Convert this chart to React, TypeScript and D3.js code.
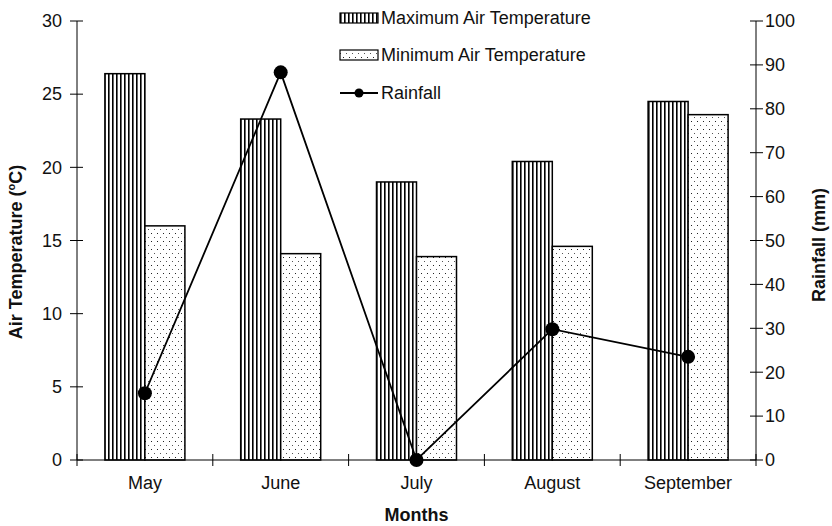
import React from "react";
import * as d3 from "d3";

const months = ["May", "June", "July", "August", "September"];
const maxTemp = [26.4, 23.3, 19.0, 20.4, 24.5];
const minTemp = [16.0, 14.1, 13.9, 14.6, 23.6];
const rainfall = [15.2, 88.3, 0, 29.8, 23.5];
const leftTicks = [0, 5, 10, 15, 20, 25, 30];
const rightTicks = [0, 10, 20, 30, 40, 50, 60, 70, 80, 90, 100];
const legendItems = ["Maximum Air Temperature", "Minimum Air Temperature", "Rainfall"];

const W = 832;
const H = 526;
const left = 77;
const right = 756;
const top = 21;
const bottom = 460;
const FONT = "'Liberation Sans', Arial, sans-serif";

export default function App() {
  const x = d3.scaleBand<string>().domain(months).range([left, right]).padding(0);
  const yL = d3.scaleLinear().domain([0, 30]).range([bottom, top]);
  const yR = d3.scaleLinear().domain([0, 100]).range([bottom, top]);
  const barW = 40;
  const cx = (m: string) => (x(m) as number) + x.bandwidth() / 2;
  const line = d3
    .line<number>()
    .x((_, i) => cx(months[i]))
    .y((d) => yR(d));
  const boundaries = d3.range(months.length + 1).map((i) => left + i * x.bandwidth());

  return (
    <div style={{ position: "fixed", left: 0, top: 0 }}>
      <svg width={W} height={H} style={{ display: "block", background: "#fff" }} fontFamily={FONT}>
        <defs>
          <pattern id="stripes" width={4} height={4} patternUnits="userSpaceOnUse">
            <rect width={4} height={4} fill="#fff" />
            <rect x={0} y={0} width={1.6} height={4} fill="#000" />
          </pattern>
          <pattern id="dots" width={6} height={8} patternUnits="userSpaceOnUse">
            <rect width={6} height={8} fill="#fff" />
            <rect x={1} y={1} width={1} height={1} fill="#222" />
            <rect x={4} y={5} width={1} height={1} fill="#555" />
          </pattern>
        </defs>

        {/* bars */}
        {months.map((m, i) => (
          <g key={m}>
            <rect
              x={cx(m) - barW}
              y={yL(maxTemp[i])}
              width={barW}
              height={bottom - yL(maxTemp[i])}
              fill="url(#stripes)"
              stroke="#000"
              strokeWidth={1.5}
            />
            <rect
              x={cx(m)}
              y={yL(minTemp[i])}
              width={barW}
              height={bottom - yL(minTemp[i])}
              fill="url(#dots)"
              stroke="#000"
              strokeWidth={1.5}
            />
          </g>
        ))}

        {/* x axis */}
        <line x1={left} x2={right} y1={bottom} y2={bottom} stroke="#000" strokeWidth={1} />
        {boundaries.map((b, i) => (
          <line key={i} x1={b} x2={b} y1={bottom - 6} y2={bottom + 6} stroke="#000" strokeWidth={1} />
        ))}
        {months.map((m) => (
          <text key={m} x={cx(m)} y={489} textAnchor="middle" fontSize={18} fill="#111">
            {m}
          </text>
        ))}
        <text x={(left + right) / 2} y={521} textAnchor="middle" fontSize={18} fontWeight="bold" fill="#111">
          Months
        </text>

        {/* left axis */}
        <line x1={left} x2={left} y1={top} y2={bottom} stroke="#000" strokeWidth={1} />
        {leftTicks.map((t) => (
          <g key={t}>
            <line x1={left - 7} x2={left + 6} y1={yL(t)} y2={yL(t)} stroke="#000" strokeWidth={1} />
            <text x={62} y={yL(t)} dy="0.35em" textAnchor="end" fontSize={18} fill="#111">
              {t}
            </text>
          </g>
        ))}
        <text
          transform={`translate(22,252) rotate(-90)`}
          textAnchor="middle"
          fontSize={18}
          fontWeight="bold"
          fill="#111"
        >
          Air Temperature (<tspan fontSize={11} dy={-7}>o</tspan>
          <tspan dy={7}>C)</tspan>
        </text>

        {/* right axis */}
        <line x1={right} x2={right} y1={top} y2={bottom} stroke="#000" strokeWidth={1} />
        {rightTicks.map((t) => (
          <g key={t}>
            <line x1={right - 6} x2={right + 7} y1={yR(t)} y2={yR(t)} stroke="#000" strokeWidth={1} />
            <text x={765} y={yR(t)} dy="0.35em" textAnchor="start" fontSize={18} fill="#111">
              {t}
            </text>
          </g>
        ))}
        <text
          transform={`translate(825,245) rotate(-90)`}
          textAnchor="middle"
          fontSize={18}
          fontWeight="bold"
          fill="#111"
        >
          Rainfall (mm)
        </text>

        {/* rainfall line */}
        <path d={line(rainfall) || ""} fill="none" stroke="#000" strokeWidth={1.8} />
        {rainfall.map((r, i) => (
          <circle key={i} cx={cx(months[i])} cy={yR(r)} r={7} fill="#000" />
        ))}

        {/* legend */}
        <g>
          <rect x={340} y={13} width={38} height={10} fill="url(#stripes)" stroke="#000" strokeWidth={1.2} />
          <text x={381} y={18} dy="0.35em" fontSize={18} fill="#111">{legendItems[0]}</text>
          <rect x={340} y={50} width={38} height={10} fill="url(#dots)" stroke="#000" strokeWidth={1.2} />
          <text x={381} y={55} dy="0.35em" fontSize={18} fill="#111">{legendItems[1]}</text>
          <line x1={340} x2={378} y1={93} y2={93} stroke="#000" strokeWidth={1.8} />
          <circle cx={359} cy={93} r={4.5} fill="#000" />
          <text x={381} y={93} dy="0.35em" fontSize={18} fill="#111">{legendItems[2]}</text>
        </g>
      </svg>
    </div>
  );
}
